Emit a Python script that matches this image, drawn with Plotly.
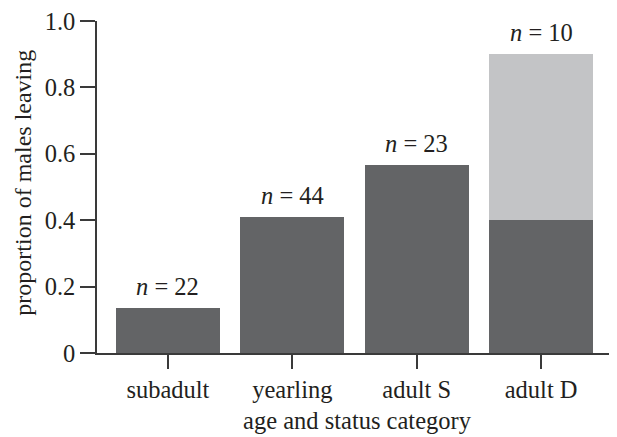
import plotly.graph_objects as go

categories = ["subadult", "yearling", "adult S", "adult D"]
dark_values = [0.136, 0.410, 0.565, 0.400]
light_values = [0, 0, 0, 0.500]
n_labels = [22, 44, 23, 10]
y_tickvals = [0, 0.2, 0.4, 0.6, 0.8, 1.0]
y_ticktext = ["0", "0.2", "0.4", "0.6", "0.8", "1.0"]

DARK = "#636466"
LIGHT = "#c3c4c6"
AXIS = "#3a3a3a"
TXT = "#231f20"
FONT = "Liberation Serif, Times New Roman, serif"
FS = 24.5

fig = go.Figure()
fig.add_trace(go.Bar(x=categories, y=dark_values, marker=dict(color=DARK, line=dict(width=0)),
                     width=0.835, showlegend=False, hoverinfo="skip"))
fig.add_trace(go.Bar(x=categories, y=light_values, marker=dict(color=LIGHT, line=dict(width=0)),
                     width=0.835, showlegend=False, hoverinfo="skip"))

totals = [d + l for d, l in zip(dark_values, light_values)]
for cat, tot, n in zip(categories, totals, n_labels):
    fig.add_annotation(x=cat, y=tot, xref="x", yref="y", text=f"<i>n</i> = {n}",
                       showarrow=False, yanchor="bottom", yshift=6,
                       font=dict(family=FONT, size=FS, color=TXT))

fig.add_annotation(x=-0.143, y=0.512, xref="paper", yref="paper",
                   text="proportion of males leaving", textangle=-90, showarrow=False,
                   xanchor="center", yanchor="middle",
                   font=dict(family=FONT, size=24, color=TXT))

fig.update_layout(
    barmode="stack",
    width=609, height=429,
    margin=dict(l=89, r=0, t=7, b=84),
    paper_bgcolor="white", plot_bgcolor="white",
    font=dict(family=FONT, size=FS, color=TXT),
    xaxis=dict(range=[-0.57, 3.61], showgrid=False, zeroline=False,
               showline=True, linecolor=AXIS, linewidth=1.5,
               ticks="outside", ticklen=14, tickwidth=1.5, tickcolor=AXIS,
               tickfont=dict(family=FONT, size=FS, color=TXT),
               title=dict(text="age and status category", standoff=10,
                          font=dict(family=FONT, size=FS, color=TXT))),
    yaxis=dict(range=[0, 1.0], showgrid=False, zeroline=False,
               showline=True, linecolor=AXIS, linewidth=1.5,
               ticks="outside", ticklen=15, tickwidth=1.5, tickcolor=AXIS,
               tickvals=y_tickvals, ticktext=y_ticktext, ticklabeloverflow="allow",
               tickfont=dict(family=FONT, size=FS, color=TXT)),
)

fig.write_html("out.html")
